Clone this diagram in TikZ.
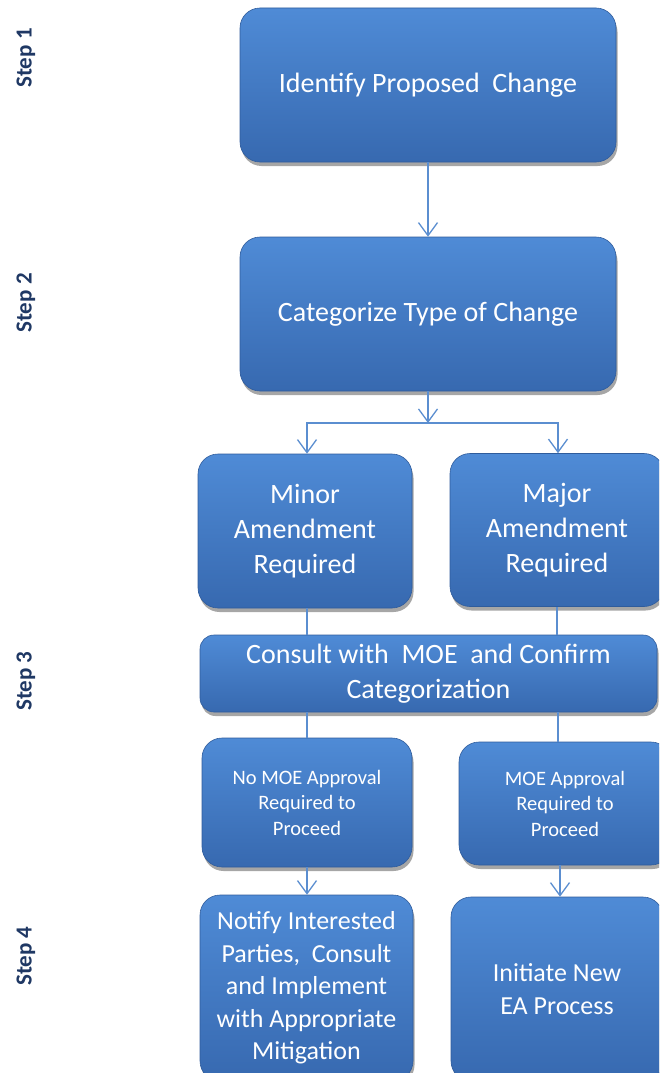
\documentclass[tikz,border=0pt]{standalone}
\usepackage{fontspec}
\setmainfont{Carlito}
\usetikzlibrary{arrows.meta,shadows}
\definecolor{boxtop}{HTML}{4F8BD6}
\definecolor{boxbot}{HTML}{3769B0}
\definecolor{boxedge}{HTML}{2F5C9C}
\definecolor{linkc}{HTML}{5B8ED0}
\definecolor{stepc}{HTML}{1F3864}
\begin{document}
\begin{tikzpicture}[x=1pt,y=-1pt,
  box/.style={draw=boxedge, line width=0.6pt, rounded corners=20pt,
    top color=boxtop, bottom color=boxbot, text=white, align=center,
    inner sep=0pt, drop shadow={shadow xshift=1.5pt, shadow yshift=-4pt, opacity=0.35, fill=black}},
  big/.style={font=\fontsize{28}{35}\selectfont},
  small/.style={font=\fontsize{20.5}{25.5}\selectfont},
  mid/.style={font=\fontsize{26}{32.5}\selectfont},
  link/.style={draw=linkc, line width=1.3pt},
  arr/.style={link, -{Straight Barb[length=13pt,width=19pt]}},
  steplbl/.style={rotate=90, text=stepc, font=\fontsize{23}{27}\selectfont\bfseries}
]
\useasboundingbox (0,0) rectangle (659,1073);
\clip (0,0) rectangle (659,1073);

\node[steplbl] (s1) at (26,58) {Step 1};
\node[steplbl] (s2) at (26,303) {Step 2};
\node[steplbl] (s3) at (26,681) {Step 3};
\node[steplbl] (s4) at (26,956) {Step 4};

\node[box, big, minimum width=376pt, minimum height=154pt] (b1) at (428,85) {Identify Proposed\ \ Change};
\node[box, big, minimum width=376pt, minimum height=154pt] (b2) at (428,314) {Categorize Type of Change};
\node[box, big, minimum width=214pt, minimum height=154pt] (minor) at (305,531) {Minor\\Amendment\\Required};
\node[box, big, minimum width=214pt, minimum height=153pt] (major) at (557,530) {Major\\Amendment\\Required};
\node[box, big, minimum width=457pt, minimum height=77pt, rounded corners=14pt] (consult) at (428.5,673.5) {Consult with\ \ MOE\ \ and Confirm\\Categorization};
\node[box, small, minimum width=210pt, minimum height=129pt] (nomoe) at (307,802.5) {No MOE Approval\\Required to\\Proceed};
\node[box, small, minimum width=212pt, minimum height=123pt] (moe) at (565,803.5) {MOE Approval\\Required to\\Proceed};
\node[box, mid, minimum width=213pt, minimum height=186pt] (notify) at (306.5,988) {Notify Interested\\Parties,\ \ Consult\\and Implement\\with Appropriate\\Mitigation};
\node[box, mid, minimum width=212pt, minimum height=184pt] (init) at (557,989) {Initiate New\\EA Process};

\coordinate (j) at (428,423);
\draw[arr] (b1) -- (b2);
\draw[arr] (b2) -- (j);
\draw[arr] (j) -| (minor.north -| 307,0);
\draw[arr] (j) -| (major.north -| 558,0);
\draw[link] (minor.south -| 307,0) -- (consult.north -| 307,0);
\draw[link] (major.south -| 557,0) -- (consult.north -| 557,0);
\draw[link] (consult.south -| 307,0) -- (nomoe.north -| 307,0);
\draw[link] (consult.south -| 558,0) -- (moe.north -| 558,0);
\draw[arr] (nomoe.south -| 307,0) -- (notify.north -| 307,0);
\draw[arr] (moe.south -| 560,0) -- (init.north -| 560,0);
\end{tikzpicture}
\end{document}
